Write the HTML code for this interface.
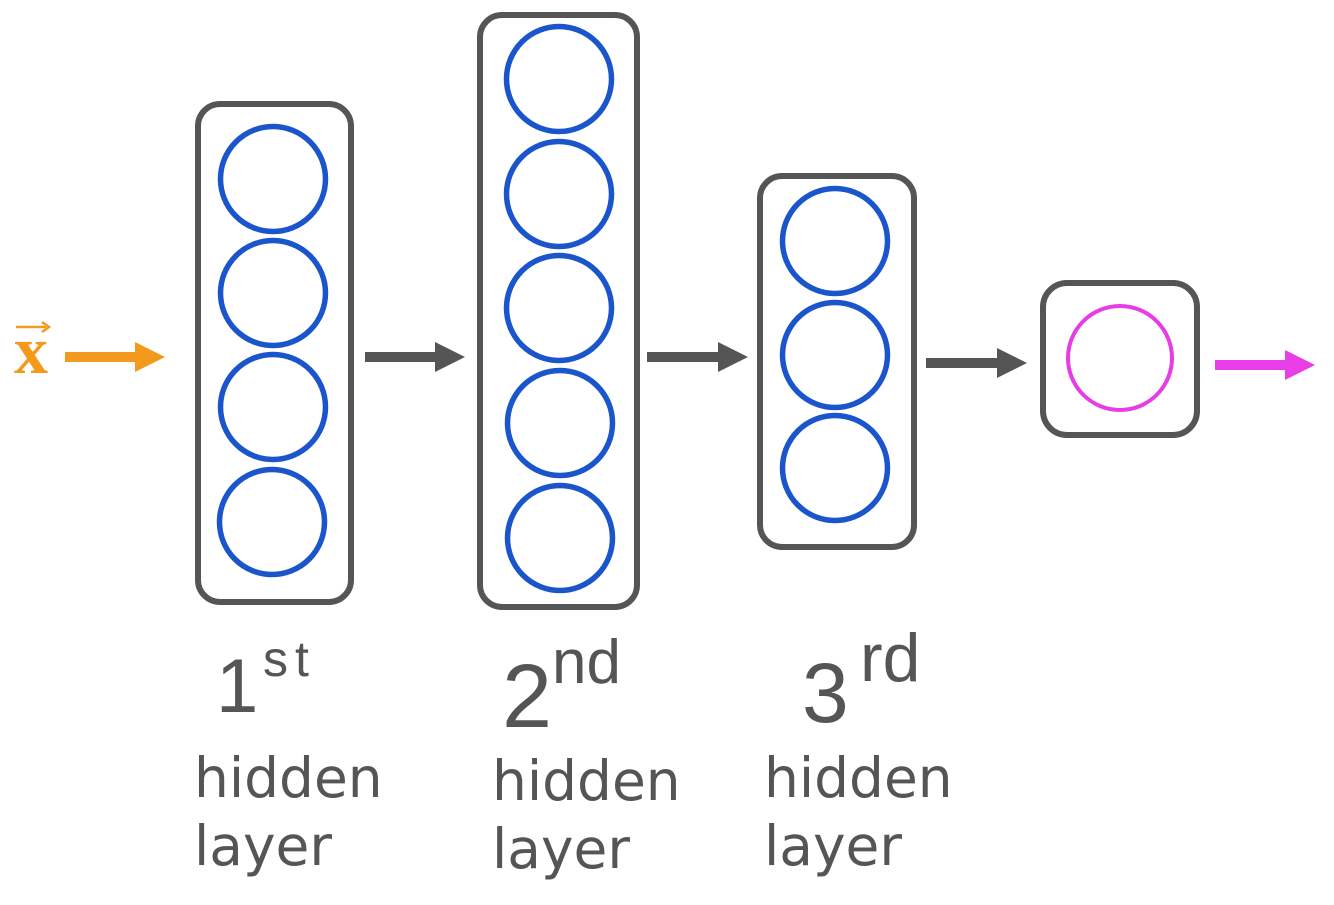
<!DOCTYPE html>
<html>
<head>
<meta charset="utf-8">
<style>
  html, body { margin: 0; padding: 0; background: #ffffff; }
  svg { display: block; }
</style>
</head>
<body>
<svg width="1334" height="905" viewBox="0 0 1334 905" xmlns="http://www.w3.org/2000/svg">
  <rect x="0" y="0" width="1334" height="905" fill="#ffffff"/>

  <!-- Layer boxes -->
  <g fill="none" stroke="#555555" stroke-width="6">
    <rect x="198" y="104" width="153" height="498" rx="22" ry="22"/>
    <rect x="480" y="15" width="157" height="592" rx="22" ry="22"/>
    <rect x="760" y="176" width="154" height="371" rx="22" ry="22"/>
    <rect x="1043" y="283" width="154" height="152" rx="24" ry="24"/>
  </g>

  <!-- Neurons -->
  <g fill="none" stroke="#1a55cc" stroke-width="5.5">
    <circle cx="273" cy="179" r="52.5"/>
    <circle cx="273" cy="293" r="52.5"/>
    <circle cx="273" cy="407" r="52.5"/>
    <circle cx="272" cy="522" r="52.5"/>

    <circle cx="559" cy="79" r="52.5"/>
    <circle cx="559" cy="194" r="52.5"/>
    <circle cx="559" cy="308" r="52.5"/>
    <circle cx="560" cy="423" r="52.5"/>
    <circle cx="560" cy="538" r="52.5"/>

    <circle cx="835" cy="241" r="52.5"/>
    <circle cx="835" cy="355" r="52.5"/>
    <circle cx="835" cy="468" r="52.5"/>
  </g>
  <circle cx="1120" cy="358" r="52" fill="none" stroke="#e63de6" stroke-width="4"/>

  <!-- Input x vector -->
  <text x="14" y="373" font-family="'Liberation Serif', serif" font-size="68" font-weight="bold" fill="#f39a1e">x</text>
  <line x1="16" y1="327" x2="46" y2="327" stroke="#f39a1e" stroke-width="2.5"/>
  <polyline points="42,322 49,327 42,332" fill="none" stroke="#f39a1e" stroke-width="2.5"/>

  <!-- Orange arrow -->
  <line x1="65" y1="357" x2="137" y2="357" stroke="#f39a1e" stroke-width="10"/>
  <polygon points="135,342 165,357 135,372" fill="#f39a1e"/>

  <!-- Gray arrows -->
  <g fill="#555555" stroke="none">
    <rect x="365" y="352" width="72" height="10"/>
    <polygon points="435,342 465,357 435,372"/>
    <rect x="647" y="352" width="73" height="10"/>
    <polygon points="718,342 748,357 718,372"/>
    <rect x="926" y="358" width="73" height="10"/>
    <polygon points="997,348 1027,363 997,378"/>
  </g>

  <!-- Magenta output arrow -->
  <rect x="1215" y="360" width="72" height="10" fill="#e83ee8"/>
  <polygon points="1285,350 1315,365 1285,380" fill="#e83ee8"/>

  <!-- Ordinal labels -->
  <g font-family="'Liberation Sans', sans-serif" fill="#555555">
    <text x="216" y="712" font-size="76">1</text>
    <text x="263" y="676" font-size="50" letter-spacing="7">st</text>
    <text x="502" y="727" font-size="90">2</text>
    <text x="552" y="683" font-size="62">nd</text>
    <text x="802" y="722" font-size="84">3</text>
    <text x="860" y="681" font-size="68">rd</text>
  </g>

  <!-- hidden layer labels -->
  <g font-family="'DejaVu Sans', 'Liberation Sans', sans-serif" font-size="55" fill="#555555">
    <text x="194" y="797">hidden</text>
    <text x="194" y="865">layer</text>
    <text x="492" y="800">hidden</text>
    <text x="492" y="868">layer</text>
    <text x="764" y="797">hidden</text>
    <text x="764" y="865">layer</text>
  </g>
</svg>
</body>
</html>
